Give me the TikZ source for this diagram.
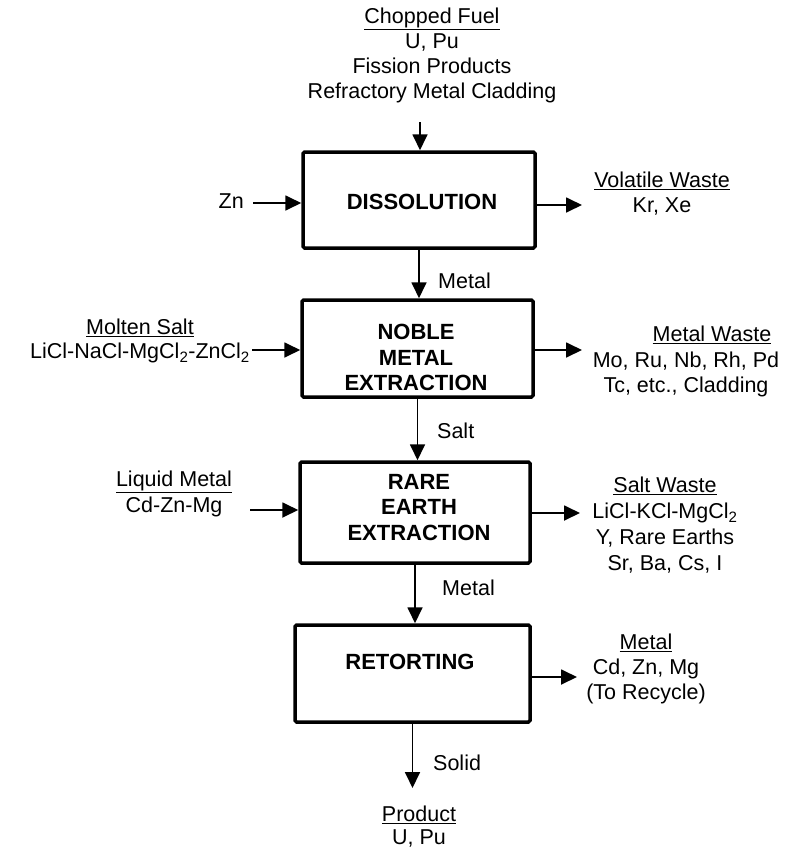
\documentclass[tikz,border=0pt]{standalone}
\usepackage{fontspec}
\setmainfont{Liberation Sans}
\usetikzlibrary{arrows.meta}
\begin{document}
\begin{tikzpicture}[x=1pt,y=-1pt,
  proc/.style={draw,line width=3.5pt,rounded corners=1.5pt,inner sep=0pt},
  ptext/.style={font=\fontsize{22}{25.5}\selectfont\bfseries,align=center,anchor=north,inner sep=0pt},
  lbl/.style={font=\fontsize{21.5}{25}\selectfont,align=center,anchor=north,inner sep=0pt},
  albl/.style={font=\fontsize{21.5}{25}\selectfont,anchor=base west,inner sep=0pt},
  flow/.style={line width=1.8pt,-{Triangle[length=16pt,width=15pt]}}]
\useasboundingbox (0,0) rectangle (793,854);

% process boxes
\node[proc,minimum width=232pt,minimum height=96pt] (diss) at (419,200) {};
\node[proc,minimum width=231pt,minimum height=97pt] (noble) at (417.5,348.5) {};
\node[proc,minimum width=230pt,minimum height=101pt] (rare) at (415,512.5) {};
\node[proc,minimum width=235pt,minimum height=97pt] (ret) at (412.5,673.5) {};

% box texts
\node[ptext] (dissT) at (422,194) {DISSOLUTION};
\node[ptext] (nobleT) at (416,324) {NOBLE\\METAL\\EXTRACTION};
\node[ptext] (rareT) at (419,474) {RARE\\EARTH\\EXTRACTION};
\node[ptext] (retT) at (410,654) {RETORTING};

% external texts
\node[lbl] (feed) at (432,8) {\underline{Chopped Fuel}\\U, Pu\\Fission Products\\Refractory Metal Cladding};
\node[font=\fontsize{21.5}{25}\selectfont,anchor=base east,inner sep=0pt] (zn) at (244,208) {Zn};
\node[lbl,font=\fontsize{21.5}{24}\selectfont] (molten) at (140,319) {\underline{Molten Salt}\\LiCl-NaCl-MgCl\textsubscript{2}-ZnCl\textsubscript{2}};
\node[lbl,font=\fontsize{21.5}{26}\selectfont] (liquid) at (174,471) {\underline{Liquid Metal}\\Cd-Zn-Mg};
\node[lbl] (volatile) at (662,172) {\underline{Volatile Waste}\\Kr, Xe};
\node[lbl] (mwHead) at (712,326) {\underline{Metal Waste}};
\node[lbl] (mwBody) at (686,352) {Mo, Ru, Nb, Rh, Pd\\Tc, etc., Cladding};
\node[lbl,font=\fontsize{21.5}{26}\selectfont] (salt) at (665,477) {\underline{Salt Waste}\\LiCl-KCl-MgCl\textsubscript{2}\\Y, Rare Earths\\Sr, Ba, Cs, I};
\node[lbl] (recycle) at (646,634) {\underline{Metal}\\Cd, Zn, Mg\\(To Recycle)};
\node[lbl,font=\fontsize{21.5}{23}\selectfont] (product) at (419,806) {\underline{Product}\\U, Pu};

% stream labels
\node[albl] (l1) at (438,288) {Metal};
\node[albl] (l2) at (437,438) {Salt};
\node[albl] (l3) at (442,595) {Metal};
\node[albl] (l4) at (433,770) {Solid};

% free ends
\coordinate (fA) at (420,122);
\coordinate (znA) at (253,203);
\coordinate (mA) at (252,350);
\coordinate (lA) at (250,510);
\coordinate (vB) at (582,205);
\coordinate (mwB) at (582,350);
\coordinate (swB) at (580,513);
\coordinate (rcB) at (577,677);
\coordinate (pB) at (412.5,788);

% connectors
\draw[flow] (fA) -- (fA |- diss.north);
\draw[flow] (diss.south) -- (diss.south |- noble.north);
\draw[flow] (noble.south) -- (noble.south |- rare.north);
\draw[flow] (rare.south) -- (rare.south |- ret.north);
\draw[flow] (ret.south) -- (pB);
\draw[flow] (znA) -- (znA -| diss.west);
\draw[flow] (mA) -- (mA -| noble.west);
\draw[flow] (lA) -- (lA -| rare.west);
\draw[flow] (vB -| diss.east) -- (vB);
\draw[flow] (mwB -| noble.east) -- (mwB);
\draw[flow] (swB -| rare.east) -- (swB);
\draw[flow] (rcB -| ret.east) -- (rcB);
\end{tikzpicture}
\end{document}
